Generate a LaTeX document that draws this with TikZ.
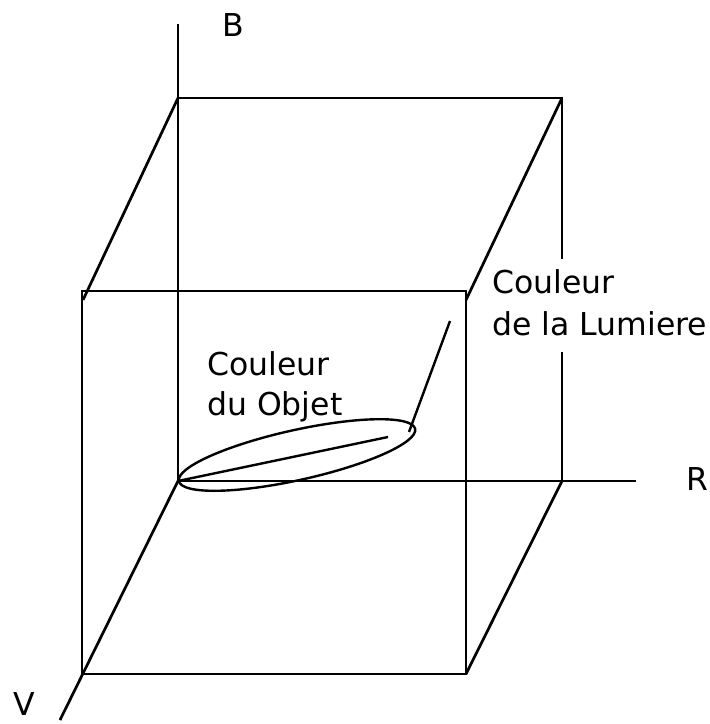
\documentclass[tikz,border=0pt]{standalone}
\usepackage{fontspec}
\setmainfont{DejaVu Sans}
\begin{document}
\begin{tikzpicture}[x=1pt,y=-1pt,
  edge/.style={line width=2.7pt},
  thin edge/.style={line width=2.4pt},
  lbl/.style={inner sep=0pt, font=\fontsize{31.5}{41}\selectfont}]
\useasboundingbox (0,0) rectangle (710,724);
% axes
\coordinate (O) at (178,481);
\coordinate (Btop) at (178,24);
\coordinate (Rend) at (636,481);
\coordinate (Vend) at (60,720);
% back square
\coordinate (bTL) at (178,98);
\coordinate (bTR) at (562,98);
\coordinate (bBR) at (562,481);
\coordinate (gapTop) at (562,259);
\coordinate (gapBot) at (562,352);
% front square
\coordinate (fTL) at (82,291);
\coordinate (fTR) at (466,291);
\coordinate (fBR) at (466,674);
\coordinate (fBL) at (82,674);
% diagonal ends
\coordinate (dTL) at (83,300);
\coordinate (dTR) at (466,300);
% ellipse, lines
\coordinate (ec) at (297,455);
\coordinate (objEnd) at (388,437);
\coordinate (lumA) at (409,432);
\coordinate (lumB) at (450,321);

\draw[edge] (Btop) -- (O);
\draw[edge] (O) -- (Rend);
\draw[edge] (O) -- (Vend);
\draw[edge] (bTL) -- (bTR) -- (gapTop);
\draw[edge] (gapBot) -- (bBR);
\draw[edge] (fTL) -- (fTR) -- (fBR) -- (fBL) -- cycle;
\draw[edge] (bTL) -- (dTL);
\draw[edge] (bTR) -- (dTR);
\draw[edge] (bBR) -- (fBR);
\draw[thin edge, rotate around={12.5:(ec)}] (ec) ellipse [x radius=121pt, y radius=25pt];
\draw[thin edge] (O) -- (objEnd);
\draw[thin edge] (lumA) -- (lumB);

\node[lbl, anchor=base] (lB) at (233,36) {B};
\node[lbl, anchor=base] (lV) at (24,715) {V};
\node[lbl, anchor=base west] (lR) at (686,490) {R};
\node[lbl, anchor=base west] (o1) at (207,375) {Couleur};
\node[lbl, anchor=base west] (o2) at (207,415) {du Objet};
\node[lbl, anchor=base west] (l1) at (492,293) {Couleur};
\node[lbl, anchor=base west] (l2) at (492,335) {de la Lumiere};
\end{tikzpicture}
\end{document}
